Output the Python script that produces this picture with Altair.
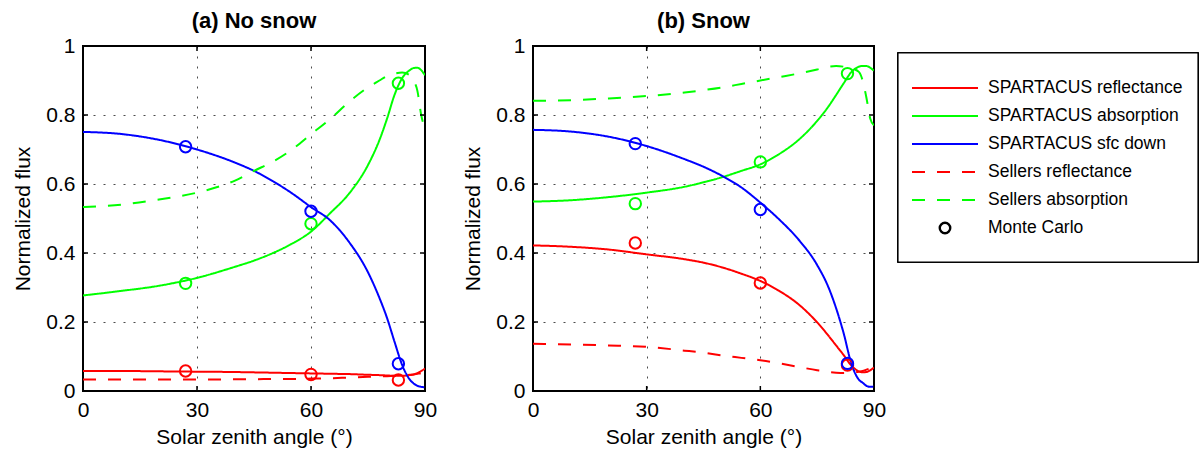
import altair as alt
import pandas as pd

# Solar zenith angles (degrees) at which the model curves are sampled
sza = [0, 10, 20, 30, 40, 45, 50, 55, 60, 65, 70, 75, 78, 80, 82, 84, 86, 87, 88, 89, 90]

# (a) No snow
spartacus_refl_a = [0.058, 0.058, 0.057, 0.056, 0.055, 0.054, 0.053, 0.052, 0.051, 0.050, 0.049,
                    0.047, 0.046, 0.045, 0.044, 0.044, 0.046, 0.048, 0.052, 0.058, 0.065]
spartacus_abs_a = [0.277, 0.290, 0.305, 0.328, 0.360, 0.378, 0.400, 0.427, 0.462, 0.515, 0.572,
                   0.655, 0.727, 0.789, 0.859, 0.907, 0.930, 0.936, 0.937, 0.930, 0.915]
spartacus_down_a = [0.751, 0.745, 0.728, 0.700, 0.662, 0.638, 0.608, 0.573, 0.533, 0.495, 0.432,
                    0.344, 0.270, 0.212, 0.142, 0.075, 0.033, 0.022, 0.015, 0.012, 0.011]
sellers_refl_a = [0.033, 0.033, 0.033, 0.033, 0.034, 0.034, 0.035, 0.035, 0.036, 0.037, 0.039,
                  0.041, 0.042, 0.043, 0.044, 0.045, 0.047, 0.048, 0.050, 0.052, 0.055]
sellers_abs_a = [0.533, 0.540, 0.555, 0.575, 0.610, 0.638, 0.665, 0.700, 0.744, 0.788, 0.838,
                 0.880, 0.900, 0.913, 0.920, 0.923, 0.915, 0.900, 0.870, 0.800, 0.760]

# (b) Snow
spartacus_refl_b = [0.422, 0.418, 0.410, 0.396, 0.382, 0.372, 0.358, 0.340, 0.319, 0.290, 0.252,
                    0.199, 0.160, 0.132, 0.104, 0.074, 0.057, 0.054, 0.055, 0.060, 0.068]
spartacus_abs_b = [0.549, 0.553, 0.562, 0.575, 0.592, 0.605, 0.620, 0.638, 0.657, 0.687, 0.727,
                   0.783, 0.825, 0.858, 0.892, 0.924, 0.940, 0.942, 0.942, 0.937, 0.928]
spartacus_down_b = [0.757, 0.752, 0.737, 0.710, 0.672, 0.650, 0.623, 0.590, 0.546, 0.497, 0.440,
                    0.365, 0.300, 0.240, 0.167, 0.080, 0.033, 0.024, 0.015, 0.012, 0.012]
sellers_refl_b = [0.137, 0.135, 0.132, 0.128, 0.117, 0.111, 0.103, 0.096, 0.089, 0.080, 0.070,
                  0.060, 0.055, 0.053, 0.052, 0.053, 0.056, 0.058, 0.062, 0.066, 0.070]
sellers_abs_b = [0.841, 0.843, 0.848, 0.855, 0.865, 0.872, 0.880, 0.890, 0.900, 0.910, 0.920,
                 0.932, 0.940, 0.942, 0.940, 0.935, 0.925, 0.900, 0.850, 0.790, 0.770]

# Monte Carlo reference points
mc_sza = [27, 60, 83]
mc_refl_a = [0.058, 0.048, 0.032]
mc_abs_a = [0.312, 0.485, 0.892]
mc_down_a = [0.708, 0.521, 0.079]
mc_refl_b = [0.429, 0.313, 0.075]
mc_abs_b = [0.543, 0.664, 0.920]
mc_down_b = [0.717, 0.526, 0.080]

series_names = ["SPARTACUS reflectance", "SPARTACUS absorption", "SPARTACUS sfc down",
                "Sellers reflectance", "Sellers absorption", "Monte Carlo"]
series_colors = ["#ff0000", "#00ff00", "#0000ff", "#ff0000", "#00ff00", "#000000"]
dash_solid = [1, 0]
dash_long = [13, 12]
series_dashes = [dash_solid, dash_solid, dash_solid, dash_long, dash_long, dash_solid]

x_ticks = [0, 30, 60, 90]
y_ticks = [0, 0.2, 0.4, 0.6, 0.8, 1]

FONT = "Liberation Sans"
H = 345
GAP = 108
XSCALE = alt.Scale(domain=[0, 90], nice=False, zero=False, padding=0)
YSCALE = alt.Scale(domain=[0, 1], nice=False, zero=False, padding=0)


def lines_frame(refl, absn, down, s_refl, s_abs):
    rows = []
    for name, vals in zip(series_names[:5], [refl, absn, down, s_refl, s_abs]):
        for a, v in zip(sza, vals):
            rows.append({"series": name, "sza": a, "value": v})
    return pd.DataFrame(rows)


def mc_frame(refl, absn, down):
    rows = []
    for var, vals in zip(["refl", "abs", "down"], [refl, absn, down]):
        for a, v in zip(mc_sza, vals):
            rows.append({"var": var, "sza": a, "value": v})
    return pd.DataFrame(rows)


def panel(title, lines, mc, width):
    x = alt.X("sza:Q", scale=XSCALE,
              axis=alt.Axis(values=x_ticks, title="Solar zenith angle (°)"))
    y = alt.Y("value:Q", scale=YSCALE,
              axis=alt.Axis(values=y_ticks, format="~g", title="Normalized flux"))

    curves = alt.Chart(lines).mark_line(strokeWidth=2, interpolate="monotone", clip=True).encode(
        x=x, y=y,
        color=alt.Color("series:N", scale=alt.Scale(domain=series_names[:5], range=series_colors[:5]),
                        legend=None),
        strokeDash=alt.StrokeDash("series:N",
                                  scale=alt.Scale(domain=series_names[:5], range=series_dashes[:5]),
                                  legend=None),
    )

    points = alt.Chart(mc).mark_point(shape="circle", filled=False, size=130, strokeWidth=2,
                                      opacity=1).encode(
        x=alt.X("sza:Q", scale=XSCALE), y=alt.Y("value:Q", scale=YSCALE),
        stroke=alt.Stroke("var:N", scale=alt.Scale(domain=["refl", "abs", "down"],
                                                   range=["#ff0000", "#00ff00", "#0000ff"]),
                          legend=None),
    )

    # inward tick marks on all four sides of the box
    xt = pd.DataFrame({"t": x_ticks})
    yt = pd.DataFrame({"t": y_ticks})
    tick_style = dict(color="black", strokeWidth=1.5)
    xb = alt.Chart(xt).mark_rule(**tick_style).encode(
        x=alt.X("t:Q", scale=XSCALE), y=alt.value(H), y2=alt.value(H - 5))
    xtp = alt.Chart(xt).mark_rule(**tick_style).encode(
        x=alt.X("t:Q", scale=XSCALE), y=alt.value(0), y2=alt.value(5))
    yl = alt.Chart(yt).mark_rule(**tick_style).encode(
        y=alt.Y("t:Q", scale=YSCALE), x=alt.value(0), x2=alt.value(5))
    yr = alt.Chart(yt).mark_rule(**tick_style).encode(
        y=alt.Y("t:Q", scale=YSCALE), x=alt.value(width), x2=alt.value(width - 5))

    return alt.layer(curves, points, xb, xtp, yl, yr).properties(
        width=width, height=H,
        title=alt.TitleParams(title, font=FONT, fontSize=22, fontWeight="bold", offset=2),
        view=alt.ViewBackground(stroke="black", strokeWidth=2),
    )


panel_a = panel("(a) No snow",
                lines_frame(spartacus_refl_a, spartacus_abs_a, spartacus_down_a, sellers_refl_a, sellers_abs_a),
                mc_frame(mc_refl_a, mc_abs_a, mc_down_a), 342)
panel_b = panel("(b) Snow",
                lines_frame(spartacus_refl_b, spartacus_abs_b, spartacus_down_b, sellers_refl_b, sellers_abs_b),
                mc_frame(mc_refl_b, mc_abs_b, mc_down_b), 341)

# Legend: its own chart, sitting closer to panel (b) than the panel gap,
# so its contents start LEFT_SHIFT pixels before its view.
LEFT_SHIFT = 84
LW, LH = 300 - LEFT_SHIFT, 216
legend_df = pd.DataFrame({"name": series_names})
row_y = alt.Y("name:N", scale=alt.Scale(domain=series_names, range=[28, 196]), axis=None)
color_enc = alt.Color("name:N", scale=alt.Scale(domain=series_names, range=series_colors), legend=None)
dash_enc = alt.StrokeDash("name:N", scale=alt.Scale(domain=series_names, range=series_dashes), legend=None)

legend_box = alt.Chart(legend_df).mark_rect(fill="white", stroke="black", strokeWidth=1.2).encode(
    x=alt.value(-LEFT_SHIFT), x2=alt.value(LW), y=alt.value(7), y2=alt.value(LH)
)
legend_lines = alt.Chart(legend_df).transform_filter(
    alt.datum.name != "Monte Carlo"
).mark_rule(strokeWidth=2).encode(
    y=row_y, x=alt.value(14 - LEFT_SHIFT), x2=alt.value(80 - LEFT_SHIFT), color=color_enc, strokeDash=dash_enc
)
legend_point = alt.Chart(legend_df).transform_filter(
    alt.datum.name == "Monte Carlo"
).mark_point(shape="circle", filled=False, size=110, strokeWidth=2.4, color="black", opacity=1).encode(
    y=row_y, x=alt.value(47 - LEFT_SHIFT)
)
legend_text = alt.Chart(legend_df).mark_text(
    align="left", baseline="middle", font=FONT, fontSize=17.5, color="black"
).encode(y=row_y, x=alt.value(90 - LEFT_SHIFT), text="name:N")

legend = alt.layer(legend_box, legend_lines, legend_point, legend_text).properties(
    width=LW, height=LH, view=alt.ViewBackground(stroke=None)
)

chart = alt.hconcat(panel_a, panel_b, legend, spacing=GAP, bounds="flush").properties(
    padding={"left": 11, "top": 9, "right": 0, "bottom": 0}
).configure_axis(
    labelFont=FONT, labelFontSize=21, labelColor="black", labelPadding=8, labelFlush=False,
    titleFont=FONT, titleFontSize=21, titleFontWeight="normal", titleColor="black",
    grid=True, gridColor="black", gridDash=[2, 8], gridWidth=1, gridOpacity=0.7,
    domain=False, ticks=False,
).configure_axisY(titlePadding=12).configure_axisX(titlePadding=6)

chart.save("out.html", embed_options={"renderer": "svg", "actions": False})
